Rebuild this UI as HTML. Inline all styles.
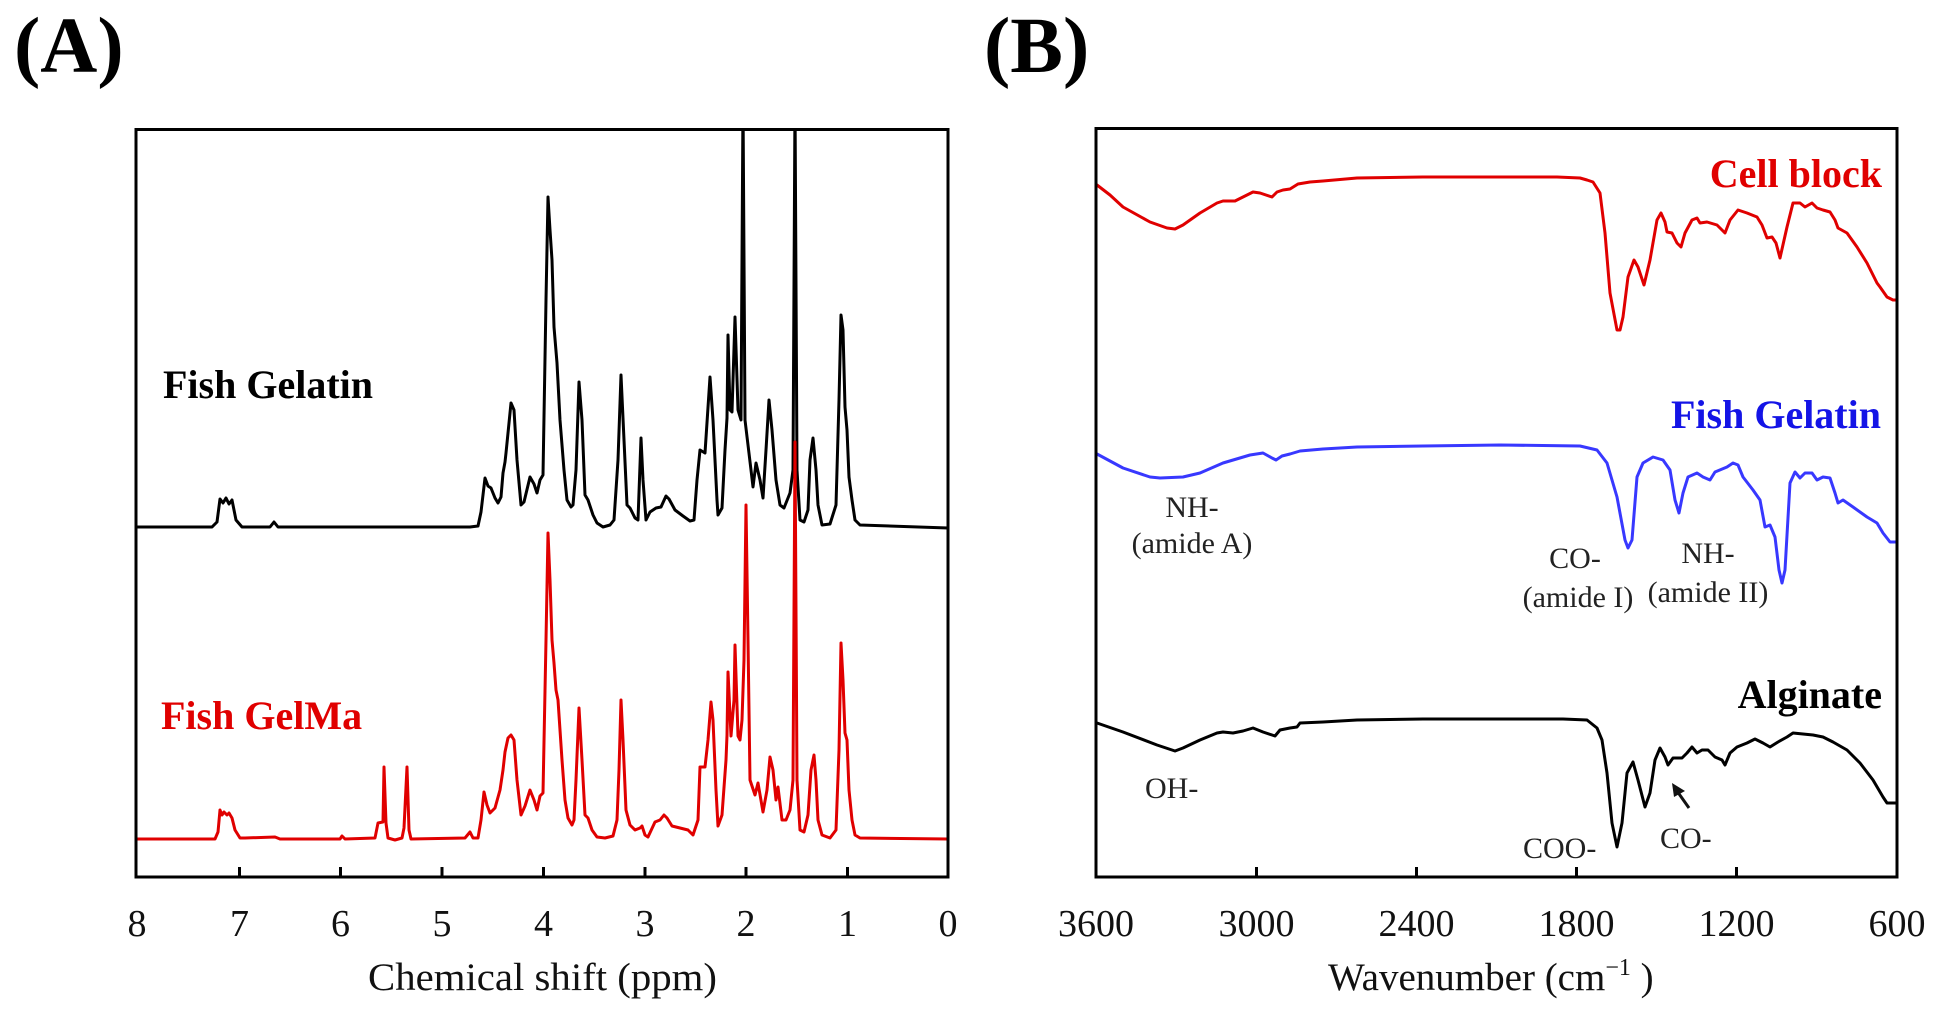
<!DOCTYPE html>
<html>
<head>
<meta charset="utf-8">
<style>
  html,body{margin:0;padding:0;background:#fff;}
  svg{display:block;}
  text{font-family:"Liberation Serif","Times New Roman",serif;}
</style>
</head>
<body>
<svg width="1940" height="1012" viewBox="0 0 1940 1012" xmlns="http://www.w3.org/2000/svg">
  <defs>
    <clipPath id="clipA"><rect x="136" y="129" width="812" height="748"/></clipPath>
    <clipPath id="clipB"><rect x="1096" y="128" width="801" height="749"/></clipPath>
  </defs>
  <rect width="1940" height="1012" fill="#fff"/>

  <!-- Panel labels -->
  <text x="14" y="72" font-size="79" font-weight="bold" fill="#000">(A)</text>
  <text x="984" y="72" font-size="79" font-weight="bold" fill="#000">(B)</text>

  <!-- ===== Panel A ===== -->
  <g clip-path="url(#clipA)" fill="none" stroke-linejoin="round" stroke-linecap="round">
    <!-- Black: Fish Gelatin -->
    <polyline stroke="#000" stroke-width="3" points="
      136,527 212,527 217,522 220,499 223,503 226,498 229,504 232,500 236,520 242,527 270,527 274,522 278,527
      470,527 478,526 481,512 485,478 488,486 491,488 495,498 498,503 501,497 503,473 505,462 506,453 511,403 514,410
      517,460 521,505 524,502 530,477 534,484 537,493 540,480 543,475 546,300 548,197 550,230 552,260 554,327 557,363
      560,420 564,470 567,500 571,507 573,505 576,470 579,382 582,420 585,495 588,500 593,515 597,523 603,527 610,525
      614,520 618,460 621,375 624,440 627,505 630,508 635,518 638,520 641,438 643,480 646,520 650,512 656,508 661,507
      666,496 669,499 675,510 683,516 690,521 694,520 697,480 700,450 705,453 710,377 713,420 717,500 718,515 722,508
      725,450 727,418 728,335 730,410 732,412 735,317 738,410 741,420 743,100 745,420 748,445 751,470 753,487 756,463
      760,480 763,498 766,450 769,400 772,430 776,480 780,505 784,508 790,493 793,470 795,100 797,470 800,520 804,522
      808,510 810,460 813,438 816,470 818,505 822,525 830,524 836,505 839,400 841,315 843,330 845,407 847,430 849,477
      852,500 855,520 860,525 948,528"/>
    <!-- Red: Fish GelMa -->
    <polyline stroke="#e00000" stroke-width="3" points="
      136,839 215,839 218,832 220,810 222,815 224,812 227,815 229,813 232,818 235,830 240,838 245,838 275,837 280,839
      340,839 342,836 345,839 375,838 378,823 383,822 384,767 386,823 388,838 395,840 402,838 404,828 407,767 409,830
      411,839 465,838 470,832 473,838 478,838 481,820 484,792 487,805 490,813 495,808 500,790 503,770 505,752 508,738
      511,735 514,740 517,780 521,815 525,806 530,790 534,800 537,810 540,796 543,793 546,640 548,533 550,580 552,640
      554,663 556,690 558,700 562,760 565,800 568,818 572,825 574,820 576,780 579,708 582,760 585,815 588,818 592,830
      597,837 605,838 613,836 617,820 619,770 621,700 623,740 626,810 630,825 635,830 640,828 642,826 645,835 648,837
      655,822 660,820 664,815 667,818 672,826 680,828 688,830 693,835 698,820 700,767 705,767 708,740 711,702 713,720
      716,790 718,826 722,815 726,760 727,735 728,672 731,736 734,700 735,645 738,736 740,740 742,720 744,660 746,505
      748,640 750,780 755,795 758,783 763,812 767,790 770,757 773,770 776,800 778,787 782,820 786,820 790,810 793,780
      795,442 797,780 800,830 804,832 808,815 811,770 814,755 816,780 818,820 822,835 830,838 836,830 839,750 841,643
      843,680 845,733 847,740 849,790 852,820 855,835 860,838 948,839"/>
  </g>
  <!-- Frame A -->
  <rect x="136" y="129.5" width="812" height="747.5" fill="none" stroke="#000" stroke-width="3"/>
  <g stroke="#000" stroke-width="3">
    <line x1="239.5" y1="877" x2="239.5" y2="867"/>
    <line x1="340.5" y1="877" x2="340.5" y2="867"/>
    <line x1="442" y1="877" x2="442" y2="867"/>
    <line x1="543.5" y1="877" x2="543.5" y2="867"/>
    <line x1="645" y1="877" x2="645" y2="867"/>
    <line x1="746" y1="877" x2="746" y2="867"/>
    <line x1="847.5" y1="877" x2="847.5" y2="867"/>
  </g>
  <g font-size="38" fill="#111" text-anchor="middle">
    <text x="137" y="936">8</text>
    <text x="239.5" y="936">7</text>
    <text x="340.5" y="936">6</text>
    <text x="442" y="936">5</text>
    <text x="543.5" y="936">4</text>
    <text x="645" y="936">3</text>
    <text x="746" y="936">2</text>
    <text x="847.5" y="936">1</text>
    <text x="948" y="936">0</text>
  </g>
  <text x="368" y="990" font-size="39" fill="#111" textLength="349" lengthAdjust="spacingAndGlyphs">Chemical shift (ppm)</text>
  <text x="163" y="398" font-size="40" font-weight="bold" fill="#000">Fish Gelatin</text>
  <text x="161" y="729" font-size="40" font-weight="bold" fill="#e00000">Fish GelMa</text>

  <!-- ===== Panel B ===== -->
  <g clip-path="url(#clipB)" fill="none" stroke-linejoin="round" stroke-linecap="round" stroke-width="3">
    <polyline stroke="#e00000" points="
      1097,185 1110,195 1123,207 1150,222 1167,228 1175,229 1183,225 1200,213 1217,203 1223,201 1235,201 1243,197
      1253,192 1260,193 1272,197 1277,192 1283,190 1290,189 1298,184 1310,182 1323,181 1357,178 1423,177 1490,177
      1557,177 1580,178 1587,180 1593,182 1600,193 1605,233 1610,293 1617,330 1620,330 1623,317 1628,277 1634,260
      1638,267 1644,285 1650,260 1657,220 1661,213 1665,222 1667,232 1672,233 1677,243 1681,247 1685,233 1692,220
      1697,218 1700,223 1707,222 1717,225 1725,233 1730,220 1738,210 1747,213 1757,217 1762,225 1767,238 1772,237
      1776,243 1780,258 1787,227 1793,203 1800,203 1805,207 1812,203 1817,208 1823,210 1830,212 1835,220 1838,228
      1847,233 1857,247 1867,263 1877,283 1880,287 1887,297 1893,300 1897,300"/>
    <polyline stroke="#3838ff" points="
      1097,454 1123,468 1150,477 1160,478 1183,477 1200,473 1223,463 1250,455 1263,453 1272,458 1276,460 1282,456
      1290,454 1300,451 1323,449 1357,447 1423,446 1500,445 1580,446 1597,450 1607,463 1617,497 1625,540 1628,548
      1632,540 1637,477 1643,463 1653,457 1663,460 1670,470 1675,500 1679,513 1683,493 1688,477 1697,473 1703,477
      1710,480 1715,472 1727,467 1733,463 1738,465 1743,477 1753,490 1760,500 1765,527 1770,525 1775,537 1779,570
      1782,583 1785,570 1790,483 1795,472 1800,478 1805,473 1812,473 1817,480 1823,477 1830,478 1835,493 1838,503
      1843,500 1853,507 1867,517 1877,523 1883,533 1890,542 1897,542"/>
    <polyline stroke="#000" points="
      1097,723 1123,732 1157,745 1175,751 1183,748 1200,740 1217,733 1223,732 1233,733 1243,731 1253,728 1263,732
      1275,736 1280,730 1290,728 1297,727 1300,723 1323,722 1357,720 1423,719 1490,719 1563,719 1587,720 1592,724
      1597,728 1602,740 1607,773 1612,823 1617,847 1622,823 1627,773 1633,762 1638,780 1645,807 1650,793 1655,760
      1660,748 1665,757 1668,765 1673,758 1682,758 1687,753 1692,747 1697,753 1702,750 1708,750 1715,757 1722,760
      1725,765 1730,753 1737,747 1747,743 1755,739 1763,743 1770,747 1778,742 1787,737 1793,733 1813,735 1823,737
      1833,742 1847,750 1860,763 1873,780 1883,797 1887,803 1897,803"/>
  </g>
  <!-- Frame B -->
  <rect x="1096" y="128.5" width="801" height="748.5" fill="none" stroke="#000" stroke-width="3"/>
  <g stroke="#000" stroke-width="3">
    <line x1="1256.5" y1="877" x2="1256.5" y2="867"/>
    <line x1="1416.5" y1="877" x2="1416.5" y2="867"/>
    <line x1="1576.5" y1="877" x2="1576.5" y2="867"/>
    <line x1="1736.5" y1="877" x2="1736.5" y2="867"/>
  </g>
  <g font-size="38" fill="#111" text-anchor="middle">
    <text x="1096" y="936">3600</text>
    <text x="1256.5" y="936">3000</text>
    <text x="1416.5" y="936">2400</text>
    <text x="1576.5" y="936">1800</text>
    <text x="1736.5" y="936">1200</text>
    <text x="1897" y="936">600</text>
  </g>
  <text x="1328" y="990" font-size="39" fill="#111">Wavenumber (cm<tspan font-size="24" dy="-15">−1</tspan><tspan dy="15"> )</tspan></text>

  <!-- Series labels B -->
  <text x="1882" y="187" font-size="40" font-weight="bold" fill="#e00000" text-anchor="end">Cell block</text>
  <text x="1881" y="428" font-size="40" font-weight="bold" fill="#1414e6" text-anchor="end">Fish Gelatin</text>
  <text x="1882" y="708" font-size="40" font-weight="bold" fill="#000" text-anchor="end">Alginate</text>

  <!-- Annotations -->
  <g font-size="30" fill="#222" text-anchor="middle">
    <text x="1192" y="517">NH-</text>
    <text x="1192" y="553">(amide A)</text>
    <text x="1575" y="568">CO-</text>
    <text x="1578" y="607">(amide I)</text>
    <text x="1708" y="563">NH-</text>
    <text x="1708" y="602">(amide II)</text>
  </g>
  <g font-size="30" fill="#222">
    <text x="1145" y="798">OH-</text>
    <text x="1523" y="858">COO-</text>
    <text x="1660" y="848">CO-</text>
  </g>
  <!-- Arrow -->
  <line x1="1689" y1="808" x2="1677" y2="791" stroke="#111" stroke-width="3"/>
  <polygon points="1672,783 1685,791 1674,797" fill="#111"/>
</svg>
</body>
</html>
